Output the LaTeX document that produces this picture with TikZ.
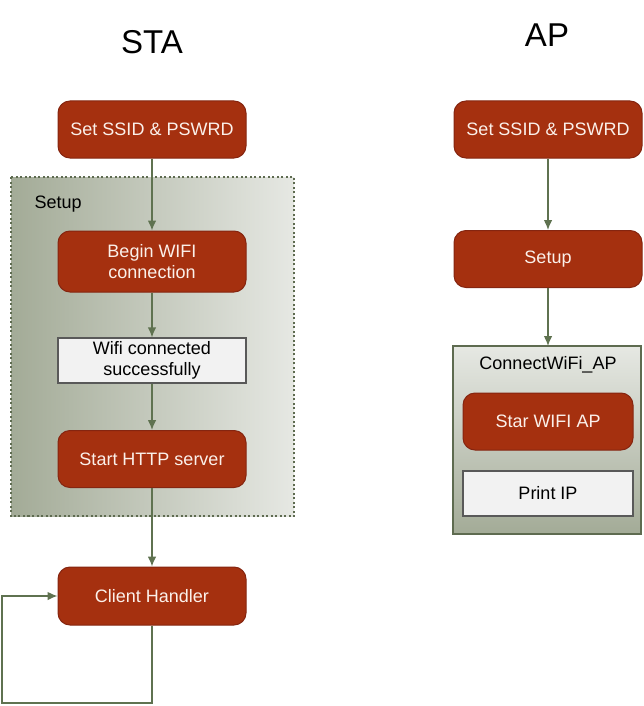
\documentclass[tikz,border=0pt]{standalone}
\usepackage{fontspec}
\setmainfont{Liberation Sans}
\usetikzlibrary{arrows.meta,positioning}
\definecolor{boxRed}{HTML}{A5300F}
\definecolor{boxEdge}{HTML}{852510}
\definecolor{boxText}{HTML}{FBF0EA}
\definecolor{flowGreen}{HTML}{5F7250}
\definecolor{frameGreen}{HTML}{5E6B50}
\definecolor{shadeDark}{HTML}{A3AB97}
\definecolor{shadeLight}{HTML}{E6E8E3}
\tikzstyle{procBox}=[draw=boxEdge, line width=1pt, fill=boxRed, rounded corners=12pt, minimum width=188pt, minimum height=57pt, text=boxText, font=\fontsize{18}{21}\selectfont, align=center]
\tikzstyle{infoBox}=[draw=black!65, line width=1.2pt, fill=black!5, minimum width=188pt, minimum height=45pt, font=\fontsize{18}{21}\selectfont, align=center, inner sep=1pt]
\tikzstyle{flowArrow}=[line width=1.3pt, draw=flowGreen, -{Latex[length=3.5mm,width=3mm]}]
\tikzstyle{titleText}=[font=\fontsize{33}{36}\selectfont]
\tikzstyle{groupText}=[font=\fontsize{18}{21}\selectfont]

\begin{document}
\begin{tikzpicture}[x=1pt,y=-1pt]
    \useasboundingbox[fill=white] (0,0) rectangle (644,706);

    % group frames
    \path[left color=shadeDark, right color=shadeLight] (11,177) rectangle (294,516);
    \draw[frameGreen, line width=1.5pt, dash pattern=on 2pt off 2.5pt] (11,177) rectangle (294,516);
    \draw[frameGreen, top color=shadeLight, bottom color=shadeDark, line width=1.5pt] (453,346) rectangle (641,534);

    \node[titleText] (ttlSta) at (152,42) {STA};
    \node[titleText] (ttlAp) at (547,35) {AP};
    \node[groupText, anchor=west] (grpSetup) at (31,204) {Setup};
    \node[groupText] (grpConn) at (548,365) {ConnectWiFi\_AP};

    % STA side
    \node[procBox] (s1) at (152,129.5) {Set SSID \& PSWRD};
    \node[procBox, minimum height=61pt] (s2) at (152,261.5) {Begin WIFI\\connection};
    \node[infoBox] (s3) at (152,360.5) {Wifi connected\\successfully};
    \node[procBox] (s4) at (152,459) {Start HTTP server};
    \node[procBox, minimum height=58pt] (s5) at (152,596) {Client Handler};
    \coordinate (loopc) at (2,703);

    % AP side
    \node[procBox] (a1) at (548,129.5) {Set SSID \& PSWRD};
    \node[procBox] (a2) at (548,259) {Setup};
    \node[procBox, minimum width=170pt] (a3) at (548,421.5) {Star WIFI AP};
    \node[infoBox, minimum width=170pt] (a4) at (548,493.5) {Print IP};

    % Arcs
    \draw[flowArrow] (s1) -- (s2);
    \draw[flowArrow] (s2) -- (s3);
    \draw[flowArrow] (s3) -- (s4);
    \draw[flowArrow] (s4) -- (s5);
    \draw[flowArrow] (s5) -- (s5 |- loopc) -- (loopc) |- (s5.west);

    \draw[flowArrow] (a1) -- (a2);
    \draw[flowArrow] (a2) -- (548,346);
\end{tikzpicture}
\end{document}
